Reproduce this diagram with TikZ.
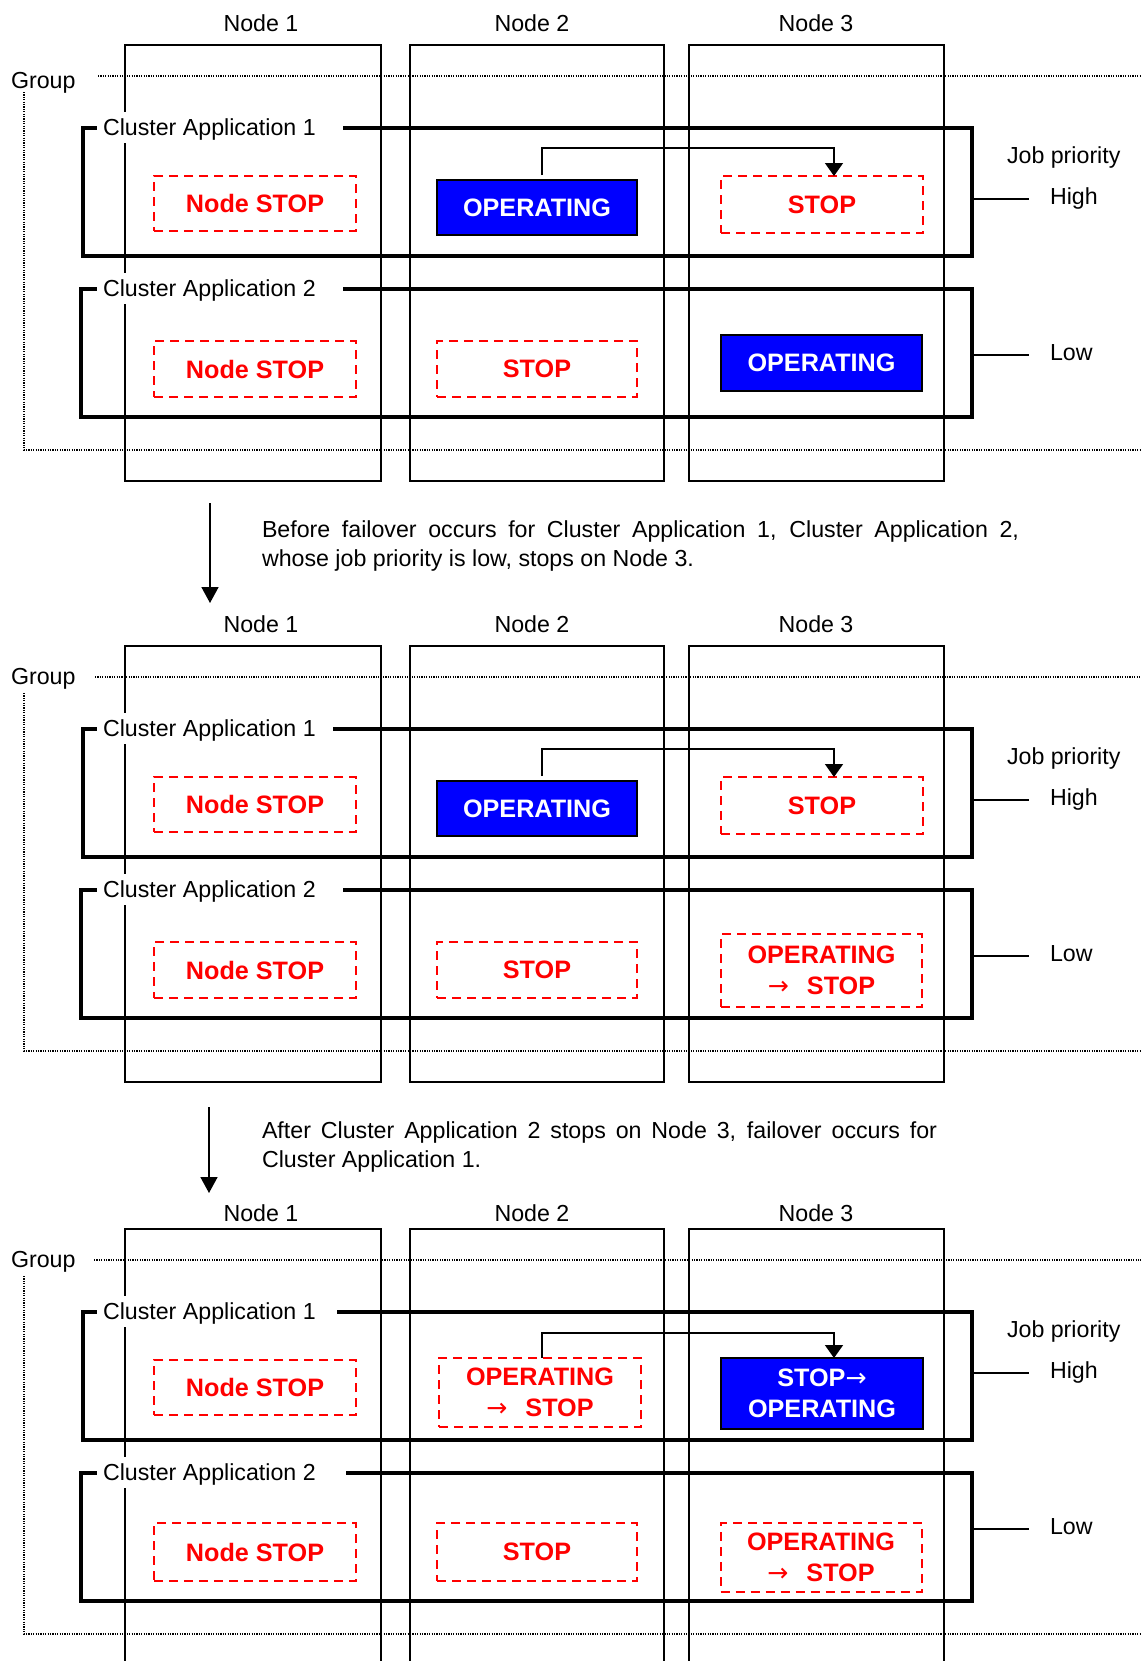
\documentclass[tikz,border=0pt]{standalone}
\usepackage{fontspec}
\setmainfont{Liberation Sans}
\newfontfamily\arrowfont{DejaVu Sans}
\usetikzlibrary{arrows.meta}
\newcommand\regfont{\fontsize{11.6pt}{14pt}\selectfont}
\newcommand\boldfnt{\fontsize{12.6pt}{15.5pt}\selectfont\bfseries}
\newcommand\rarr{{\arrowfont\mdseries →}}
\tikzset{
 lab/.style={font=\regfont, inner sep=0pt, outer sep=0pt},
 colbox/.style={draw, line width=1pt, minimum height=218pt, inner sep=0pt, outer sep=0pt},
 cabox/.style={draw, line width=1.7pt, inner sep=0pt, outer sep=0pt},
 grpline/.style={line width=0.6pt, dash pattern=on 0.6pt off 0.6pt},
 stopbox/.style={draw=red, line width=1pt, dash pattern=on 4.5pt off 3pt, text=red, font=\boldfnt, inner sep=0pt, outer sep=0pt, align=center},
 opbox/.style={draw=black, fill=blue, line width=1pt, text=white, font=\boldfnt, inner sep=0pt, outer sep=0pt, align=center},
 pline/.style={line width=0.8pt},
 conn/.style={line width=0.8pt, -{Triangle[length=6.5pt,width=9pt]}},
 flow/.style={line width=0.8pt, -{Triangle[length=8pt,width=8.5pt]}},
}
% #1 suffix, #2 node label baseline, #3 group line start, #4 group label baseline,
% #5 CA1 label gap end, #6 CA2 label gap end, #7 priority shift
\newcommand\panelframe[7]{%
 \node[colbox, minimum width=128pt] (c1#1) at (253,263) {};
 \node[colbox, minimum width=127pt] (c2#1) at (537,263) {};
 \node[colbox, minimum width=127.5pt] (c3#1) at (816.5,263) {};
 \node[lab, anchor=base] (nl1#1) at (261,#2) {Node 1};
 \node[lab, anchor=base] (nl2#1) at (532,#2) {Node 2};
 \node[lab, anchor=base] (nl3#1) at (816,#2) {Node 3};
 \node[lab, anchor=base west] (grp#1) at (11,#4) {Group};
 \coordinate (gs#1) at (#3,76);
 \coordinate (ge#1) at (1141,76);
 \draw[grpline] (gs#1) -- (ge#1);
 \coordinate (gv#1) at (24,92);
 \coordinate (gb#1) at (1141,450);
 \draw[grpline] (gv#1) |- (gb#1);
 \node[cabox, minimum width=444.5pt, minimum height=64pt] (ca1#1) at (527.5,192) {};
 \node[cabox, minimum width=445.5pt, minimum height=64pt] (ca2#1) at (526.5,353) {};
 \fill[white] (97,112) rectangle (#5,143);
 \fill[white] (97,273) rectangle (#6,304);
 \node[lab, anchor=base west] (cal1#1) at (103,135) {Cluster Application 1};
 \node[lab, anchor=base west] (cal2#1) at (103,296) {Cluster Application 2};
 \begin{scope}[yshift=#7]
  \node[lab, anchor=base west] (jp#1) at (1007,163) {Job priority};
  \node[lab, anchor=base west] (hi#1) at (1050,204) {High};
  \node[lab, anchor=base west] (lo#1) at (1050,360) {Low};
  \coordinate (he#1) at (1029,199);
  \coordinate (le#1) at (1029,355);
  \draw[pline] (ca1#1.east |- he#1) -- (he#1);
  \draw[pline] (ca2#1.east |- le#1) -- (le#1);
 \end{scope}
}
\begin{document}
\begin{tikzpicture}[x=0.5pt,y=-0.5pt]
\useasboundingbox (0,0) rectangle (1141,1661);
\clip (0,0) rectangle (1141,1661);

% ---------- Panel 1 ----------
\panelframe{a}{31}{98}{88}{343}{343}{0pt}
\node[stopbox, minimum width=101pt, minimum height=27.5pt] (r1n1a) at (255,203.5) {Node STOP};
\node[opbox, minimum width=100pt, minimum height=27.5pt] (r1n2a) at (537,207.5) {OPERATING};
\node[stopbox, minimum width=101pt, minimum height=28.5pt] (r1n3a) at (822,204.5) {STOP};
\node[stopbox, minimum width=101pt, minimum height=28pt] (r2n1a) at (255,369) {Node STOP};
\node[stopbox, minimum width=100pt, minimum height=28pt] (r2n2a) at (537,369) {STOP};
\node[opbox, minimum width=100.5pt, minimum height=28pt] (r2n3a) at (821.5,363) {OPERATING};
\draw[conn] ([xshift=2.5pt,yshift=2.5pt]r1n2a.north) |- ([xshift=6pt,yshift=14pt]r1n3a.north) -- ([xshift=6pt]r1n3a.north);

% ---------- transition 1 ----------
\coordinate (f1s) at (210,503);
\coordinate (f1e) at (210,603);
\draw[flow] (f1s) -- (f1e);
\node[lab, anchor=base west] (t1a) at (262,537) {\makebox[378.5pt][s]{Before failover occurs for Cluster Application 1, Cluster Application 2,}};
\node[lab, anchor=base west] (t1b) at (262,566) {whose job priority is low, stops on Node 3.};

% ---------- Panel 2 ----------
\begin{scope}[shift={(0,601)}]
\panelframe{b}{31}{95}{83}{333}{343}{0pt}
\node[stopbox, minimum width=101pt, minimum height=27.5pt] (r1n1b) at (255,203.5) {Node STOP};
\node[opbox, minimum width=100pt, minimum height=27.5pt] (r1n2b) at (537,207.5) {OPERATING};
\node[stopbox, minimum width=101pt, minimum height=28.5pt] (r1n3b) at (822,204.5) {STOP};
\node[stopbox, minimum width=101pt, minimum height=28pt] (r2n1b) at (255,369) {Node STOP};
\node[stopbox, minimum width=100pt, minimum height=28pt] (r2n2b) at (537,369) {STOP};
\node[stopbox, minimum width=100.5pt, minimum height=36.5pt] (r2n3b) at (821.5,369.5) {OPERATING\\\rarr\hspace{9pt}STOP};
\draw[conn] ([xshift=2.5pt,yshift=2.5pt]r1n2b.north) |- ([xshift=6pt,yshift=14pt]r1n3b.north) -- ([xshift=6pt]r1n3b.north);
\end{scope}

% ---------- transition 2 ----------
\coordinate (f2s) at (209,1107);
\coordinate (f2e) at (209,1193);
\draw[flow] (f2s) -- (f2e);
\node[lab, anchor=base west] (t2a) at (262,1138) {\makebox[337.5pt][s]{After Cluster Application 2 stops on Node 3, failover occurs for}};
\node[lab, anchor=base west] (t2b) at (262,1167) {Cluster Application 1.};

% ---------- Panel 3 ----------
\begin{scope}[shift={(0,1184)}]
\panelframe{c}{37}{94}{83}{337}{346}{5pt}
\node[stopbox, minimum width=101pt, minimum height=27.5pt] (r1n1c) at (255,203.5) {Node STOP};
\node[stopbox, minimum width=101pt, minimum height=34.5pt] (r1n2c) at (540,208.5) {OPERATING\\\rarr\hspace{9pt}STOP};
\node[opbox, minimum width=101pt, minimum height=35.5pt] (r1n3c) at (822,209.5) {STOP\rarr\\OPERATING};
\node[stopbox, minimum width=101pt, minimum height=29pt] (r2n1c) at (255,368) {Node STOP};
\node[stopbox, minimum width=100pt, minimum height=29pt] (r2n2c) at (537,368) {STOP};
\node[stopbox, minimum width=100.5pt, minimum height=34.5pt] (r2n3c) at (821,373.5) {OPERATING\\\rarr\hspace{9pt}STOP};
\draw[conn] ([xshift=1pt]r1n2c.north) |- ([xshift=6pt,yshift=12.5pt]r1n3c.north) -- ([xshift=6pt]r1n3c.north);
\end{scope}
\end{tikzpicture}
\end{document}
